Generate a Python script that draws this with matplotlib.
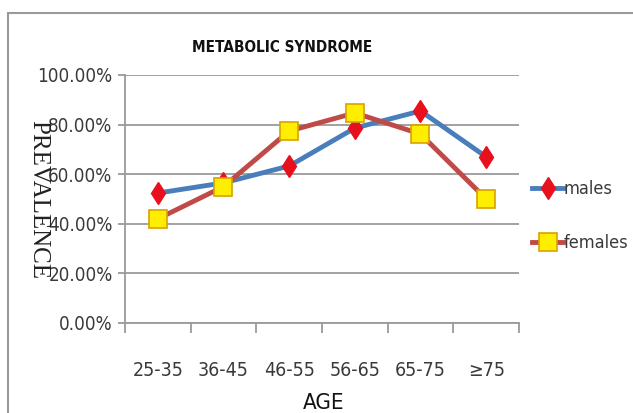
import matplotlib.pyplot as plt
from matplotlib import font_manager
from matplotlib.patches import Rectangle
from matplotlib.ticker import FuncFormatter

# age groups and prevalence (%) of metabolic syndrome
age_groups = ['25-35', '36-45', '46-55', '56-65', '65-75', '≥75']
males = [52.4, 56.5, 63.3, 78.6, 85.5, 67.0]
females = [42.0, 55.0, 77.4, 84.7, 76.2, 50.0]
y_ticks = [0, 20, 40, 60, 80, 100]

txt = '#3a3a3a'
grey = '#9a9a9a'


def fp(size, weight='normal'):
    return font_manager.FontProperties(family='DejaVu Sans', stretch='condensed',
                                       size=size, weight=weight)


fig = plt.figure(figsize=(6.33, 4.13), dpi=100)
# chart frame
fig.patches.append(Rectangle((8 / 633, -0.1), 1.2, 1 - 13 / 413 + 0.1,
                             transform=fig.transFigure, fill=False,
                             edgecolor=grey, linewidth=1.5))

ax = fig.add_axes([125 / 633, 1 - 323 / 413, 394 / 633, 248 / 413])
x = range(len(age_groups))

ax.plot(x, males, color='#4a7ebb', linewidth=3.5, marker='d',
        markersize=11.5, markerfacecolor='#e8101c', markeredgecolor='#e8101c',
        label='males', zorder=3)
ax.plot(x, females, color='#be4b48', linewidth=3.5, marker='s',
        markersize=12.5, markerfacecolor='#ffee00', markeredgecolor='#d9a200',
        markeredgewidth=1.2, label='females', zorder=4)

ax.set_xlim(-0.5, 5.5)
ax.set_ylim(0, 100)
ax.set_yticks(y_ticks)
ax.yaxis.set_major_formatter(FuncFormatter(lambda v, p: f'{v:.2f}%'))
ax.grid(axis='y', color=grey, linewidth=1.3)
ax.set_axisbelow(True)

# category boundaries carry the tick marks, labels sit between them
ax.set_xticks([i - 0.5 for i in range(len(age_groups) + 1)])
ax.set_xticklabels([])
ax.set_xticks(list(x), minor=True)
ax.set_xticklabels(age_groups, minor=True, fontproperties=fp(14), color=txt)
ax.tick_params(axis='x', which='major', length=7, width=1.3, color=grey)
ax.tick_params(axis='x', which='minor', length=0, pad=27)
ax.tick_params(axis='y', length=5, width=1.3, color=grey, pad=4)
for lab in ax.get_yticklabels():
    lab.set_fontproperties(fp(13.5))
    lab.set_color(txt)

for s in ['top', 'right']:
    ax.spines[s].set_visible(False)
for s in ['left', 'bottom']:
    ax.spines[s].set_color(grey)
    ax.spines[s].set_linewidth(1.3)

fig.text(282 / 633, 1 - 47 / 413, 'METABOLIC SYNDROME', ha='center',
         va='center', fontproperties=fp(11, 'bold'), color='#111111')
fig.text(38 / 633, 1 - 200 / 413, 'PREVALENCE', rotation=-90,
         ha='center', va='center', fontsize=18, family='Liberation Serif',
         color='#222222')
fig.text(324 / 633, 1 - 403 / 413, 'AGE', ha='center', va='center',
         fontproperties=fp(16), color='#111111')

fig.legend(loc='center left', bbox_to_anchor=(516 / 633, 1 - 216 / 413),
           frameon=False, prop=fp(13),
           labelspacing=2.0, handlelength=1.7, handletextpad=0.05,
           labelcolor=txt)

fig.savefig('out.png', dpi=100)
